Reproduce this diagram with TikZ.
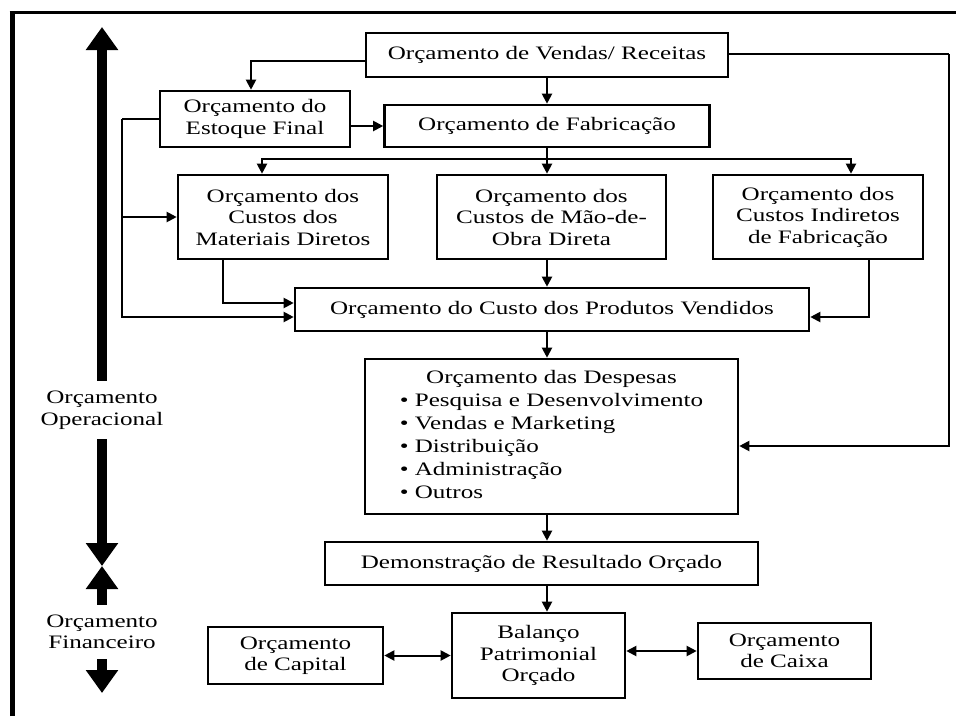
\documentclass[tikz,border=0pt]{standalone}
\usepackage{fontspec}
\setmainfont{Liberation Serif}[FakeStretch=1.32]
\usetikzlibrary{arrows.meta}
\renewcommand{\arraystretch}{1.07}

\begin{document}
\begin{tikzpicture}[x=1pt,y=-1pt,>={Triangle[length=10pt,width=10pt]}]
    \tikzset{box/.style={rectangle,draw=black,line width=2.6pt,fill=white,align=center,inner sep=2pt,font=\fontsize{19}{21.5}\selectfont}}
    \tikzset{link/.style={line width=2pt}}
    \tikzset{bigarrow/.style={line width=10pt,-{Triangle[length=23pt,width=31pt]}}}
    \tikzset{side/.style={align=center,inner xsep=0pt,inner ysep=10pt,font=\fontsize{19}{21.5}\selectfont}}
    \useasboundingbox (0,0) rectangle (956,716);
    \draw[line width=5pt] (12,716) -- (12,12);
    \draw[line width=3pt] (9.5,12) -- (956,12);

    \node[box, minimum width=362pt, minimum height=44pt] at (547,55) (vendas) {Orçamento de Vendas/ Receitas};
    \node[box, minimum width=190pt, minimum height=56pt] at (255,119) (estoque) {Orçamento do\\Estoque Final};
    \node[box, minimum width=325pt, minimum height=42pt] at (547,126) (fabric) {Orçamento de Fabricação};
    \node[box, minimum width=210pt, minimum height=84pt] at (283,217) (materiais) {Orçamento dos\\Custos dos\\Materiais Diretos};
    \node[box, minimum width=229pt, minimum height=84pt] at (551.5,217) (maoobra) {Orçamento dos\\Custos de Mão-de-\\Obra Direta};
    \node[box, minimum width=210pt, minimum height=84pt] at (818,217) (indiretos) {Orçamento dos\\Custos Indiretos\\de Fabricação};
    \node[box, minimum width=514pt, minimum height=43pt] at (552,309.5) (cpv) {Orçamento do Custo dos Produtos Vendidos};
    \node[box, minimum width=373pt, minimum height=155pt] at (551.5,436.5) (despesas) {%
      \begin{tabular}{@{}l@{}}
      \multicolumn{1}{@{}c@{}}{Orçamento das Despesas}\\
      \textbullet\ Pesquisa e Desenvolvimento\\
      \textbullet\ Vendas e Marketing\\
      \textbullet\ Distribuição\\
      \textbullet\ Administração\\
      \textbullet\ Outros
      \end{tabular}};
    \node[box, minimum width=433pt, minimum height=43pt] at (541.5,563.5) (demo) {Demonstração de Resultado Orçado};
    \node[box, minimum width=173pt, minimum height=85pt] at (538.5,655.5) (balanco) {Balanço\\Patrimonial\\Orçado};
    \node[box, minimum width=175pt, minimum height=57pt] at (295.5,655.5) (capital) {Orçamento\\de Capital};
    \node[box, minimum width=173pt, minimum height=56pt] at (784.5,651) (caixa) {Orçamento\\de Caixa};

    \node[side] at (102,410) (oper) {Orçamento\\Operacional};
    \node[side] at (102,632) (fin) {Orçamento\\Financeiro};
    \coordinate (top) at (102,27);
    \coordinate (mid) at (102,566);
    \coordinate (bottom) at (102,693);
    \draw[bigarrow] (oper.north) -- (top);
    \draw[bigarrow] (oper.south) -- (mid);
    \draw[bigarrow] (fin.north) -- (mid);
    \draw[bigarrow] (fin.south) -- (bottom);

    \draw[link,->] ([yshift=-6pt]vendas.west) -| ([xshift=-4pt]estoque.north);
    \draw[link,->] (estoque.east |- fabric.west) -- (fabric.west);
    \draw[link,->] (vendas.south) -- (vendas.south |- fabric.north);
    \draw[link] (fabric.south) -- ++(0,11) coordinate (split);
    \draw[link,->] (split) -- (split |- maoobra.north);
    \draw[link,->] (split) -| ([xshift=-21pt]materiais.north);
    \draw[link,->] (split) -| ([xshift=33pt]indiretos.north);
    \draw[link,->] ([xshift=-60pt]materiais.south) |- ([yshift=6.5pt]cpv.west);
    \draw[link] (estoque.west) -- ++(-37,0) coordinate (loop);
    \draw[link,->] (loop) |- ([yshift=-7.5pt]cpv.west);
    \draw[link,->] (loop |- materiais.west) -- (materiais.west);
    \draw[link,->] ([xshift=51pt]indiretos.south) |- ([yshift=-7.5pt]cpv.east);
    \draw[link,->] (maoobra.south -| vendas) -- (cpv.north -| vendas);
    \draw[link,->] (cpv.south -| vendas) -- (despesas.north -| vendas);
    \draw[link] ([yshift=1pt]vendas.east) -- ++(220,0) coordinate (loopright);
    \draw[link,->] (loopright) |- ([yshift=-9.5pt]despesas.east);
    \draw[link,->] (despesas.south -| vendas) -- (demo.north -| vendas);
    \draw[link,->] (demo.south -| vendas) -- (balanco.north -| vendas);
    \draw[link,<->] (capital.east) -- (balanco.west);
    \draw[link,<->] (balanco.east |- caixa.west) -- (caixa.west);
\end{tikzpicture}
\end{document}
